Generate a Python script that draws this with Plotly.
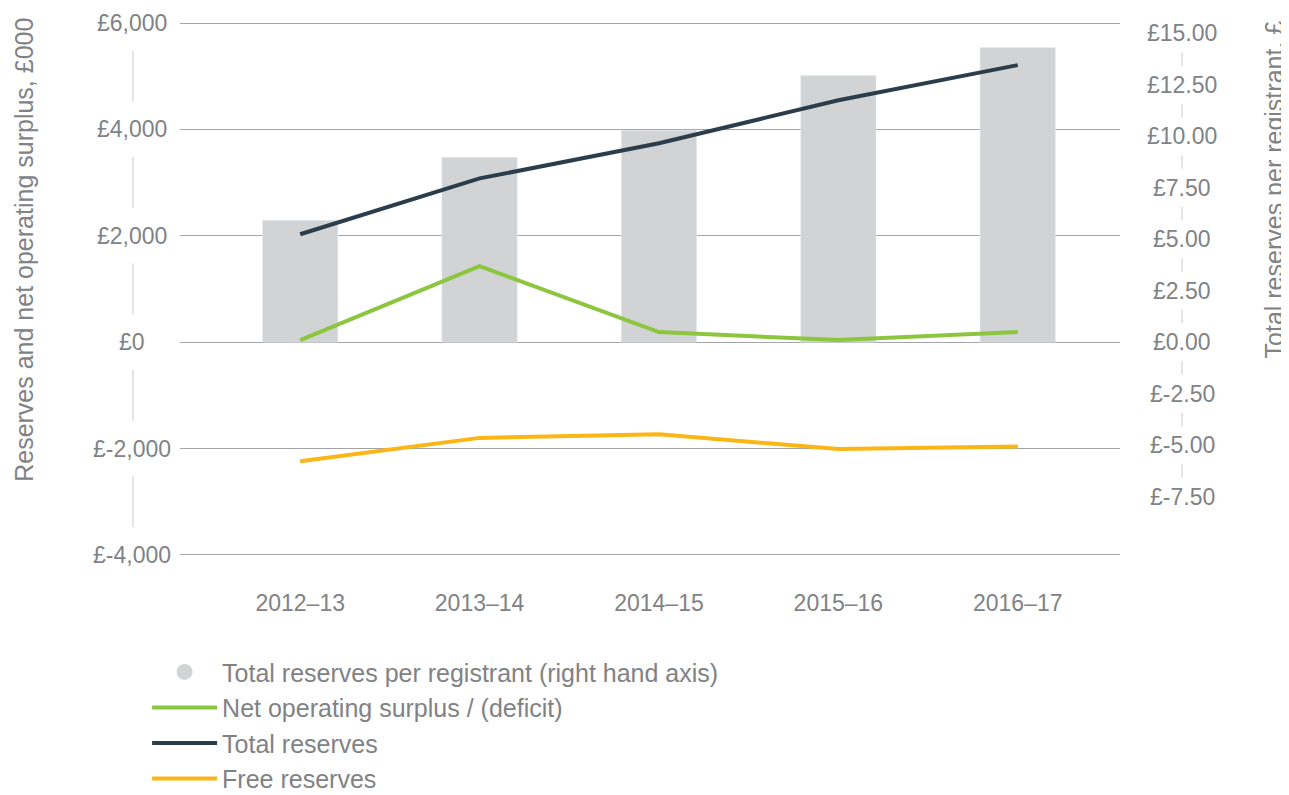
import plotly.graph_objects as go

years = ["2012–13", "2013–14", "2014–15", "2015–16", "2016–17"]
per_registrant = [5.92, 8.98, 10.29, 12.96, 14.32]          # £, right axis (bars)
net_surplus = [40, 1430, 190, 40, 190]                      # £000
total_reserves = [2030, 3080, 3740, 4550, 5210]             # £000
free_reserves = [-2240, -1800, -1730, -2010, -1960]         # £000

left_ticks = [6000, 4000, 2000, 0, -2000, -4000]
left_labels = ["£6,000", "£4,000", "£2,000", "£0", "£-2,000", "£-4,000"]
right_ticks = [15, 12.5, 10, 7.5, 5, 2.5, 0, -2.5, -5, -7.5]
right_labels = ["£15.00", "£12.50", "£10.00", "£7.50", "£5.00", "£2.50", "£0.00",
                "£-2.50", "£-5.00", "£-7.50"]

LEFT_RANGE = [-4040, 6040]
K = 15.5 / 6000          # right-axis units per left-axis unit (zeros aligned)
RIGHT_RANGE = [LEFT_RANGE[0] * K, LEFT_RANGE[1] * K]

GREY_TXT = "#808285"
FONT = "Liberation Sans, Arial, sans-serif"
TICK_SIZE = 23
TXT_SIZE = 25
LEG_SIZE = 25

fig = go.Figure()
fig.add_trace(go.Bar(x=years, y=per_registrant, yaxis="y", marker_color="#d1d3d4",
                     width=0.42, showlegend=False,
                     name="Total reserves per registrant (right hand axis)"))
fig.add_trace(go.Scatter(x=[None], y=[None], mode="markers", yaxis="y2",
                         marker=dict(symbol="circle", size=25, color="#d1d3d4"),
                         name="Total reserves per registrant (right hand axis)", legendgroup="a"))
fig.add_trace(go.Scatter(x=years, y=net_surplus, mode="lines", yaxis="y2",
                         line=dict(color="#8cc63f", width=4),
                         name="Net operating surplus / (deficit)", legendgroup="b"))
fig.add_trace(go.Scatter(x=years, y=total_reserves, mode="lines", yaxis="y2",
                         line=dict(color="#2b3d4b", width=4),
                         name="Total reserves", legendgroup="c"))
fig.add_trace(go.Scatter(x=years, y=free_reserves, mode="lines", yaxis="y2",
                         line=dict(color="#fbb616", width=4),
                         name="Free reserves", legendgroup="d"))

annotations = []
for v, t in zip(left_ticks, left_labels):
    annotations.append(dict(x=-0.051, xref="paper", y=v, yref="y2", text=t, showarrow=False,
                            xanchor="center", yanchor="middle",
                            font=dict(size=TICK_SIZE, color=GREY_TXT)))
for v, t in zip(right_ticks, right_labels):
    annotations.append(dict(x=1.066, xref="paper", y=v, yref="y", text=t, showarrow=False,
                            xanchor="center", yanchor="middle",
                            font=dict(size=TICK_SIZE, color=GREY_TXT)))
annotations.append(dict(x=-0.166, xref="paper", y=0.573, yref="paper", textangle=-90,
                        text="Reserves and net operating surplus, £000", showarrow=False,
                        xanchor="center", yanchor="middle",
                        font=dict(size=TXT_SIZE, color=GREY_TXT)))
annotations.append(dict(x=1.164, xref="paper", y=0.686, yref="paper", textangle=-90,
                        text="Total reserves per registrant, £", showarrow=False,
                        xanchor="center", yanchor="middle",
                        font=dict(size=TXT_SIZE, color=GREY_TXT)))

shapes = []
for a, b in zip(left_ticks[:-1], left_ticks[1:]):
    mid, step = (a + b) / 2, abs(a - b)
    shapes.append(dict(type="line", xref="paper", x0=-0.05, x1=-0.05, yref="y2",
                       y0=mid - 0.24 * step, y1=mid + 0.24 * step,
                       line=dict(color="#c8c9cb", width=1)))
for a, b in zip(right_ticks[:-1], right_ticks[1:]):
    mid, step = (a + b) / 2, abs(a - b)
    shapes.append(dict(type="line", xref="paper", x0=1.066, x1=1.066, yref="y",
                       y0=mid - 0.13 * step, y1=mid + 0.13 * step,
                       line=dict(color="#c8c9cb", width=1)))

fig.update_layout(
    width=1281, height=787,
    margin=dict(l=172, r=169, t=13, b=238, autoexpand=False),
    plot_bgcolor="white", paper_bgcolor="white",
    font=dict(family=FONT, size=TXT_SIZE, color=GREY_TXT),
    xaxis=dict(range=[-0.67, 4.57], showgrid=False, showline=False, zeroline=False,
               ticks="", ticklabelstandoff=30, tickfont=dict(size=TICK_SIZE, color=GREY_TXT)),
    yaxis=dict(range=RIGHT_RANGE, showgrid=False, zeroline=False, showticklabels=False,
               showline=False, side="right"),
    yaxis2=dict(range=LEFT_RANGE, overlaying="y", side="left", tickvals=left_ticks,
                showticklabels=False, showgrid=True, gridcolor="#a2a4a7", gridwidth=1,
                zeroline=True, zerolinecolor="#a2a4a7", zerolinewidth=1, showline=False),
    legend=dict(x=-0.035, y=-0.172, xanchor="left", yanchor="top", orientation="v",
                traceorder="grouped", tracegroupgap=0, itemwidth=65,
                font=dict(size=LEG_SIZE, color=GREY_TXT), bgcolor="rgba(0,0,0,0)"),
    annotations=annotations, shapes=shapes,
)

fig.write_html("out.html")
